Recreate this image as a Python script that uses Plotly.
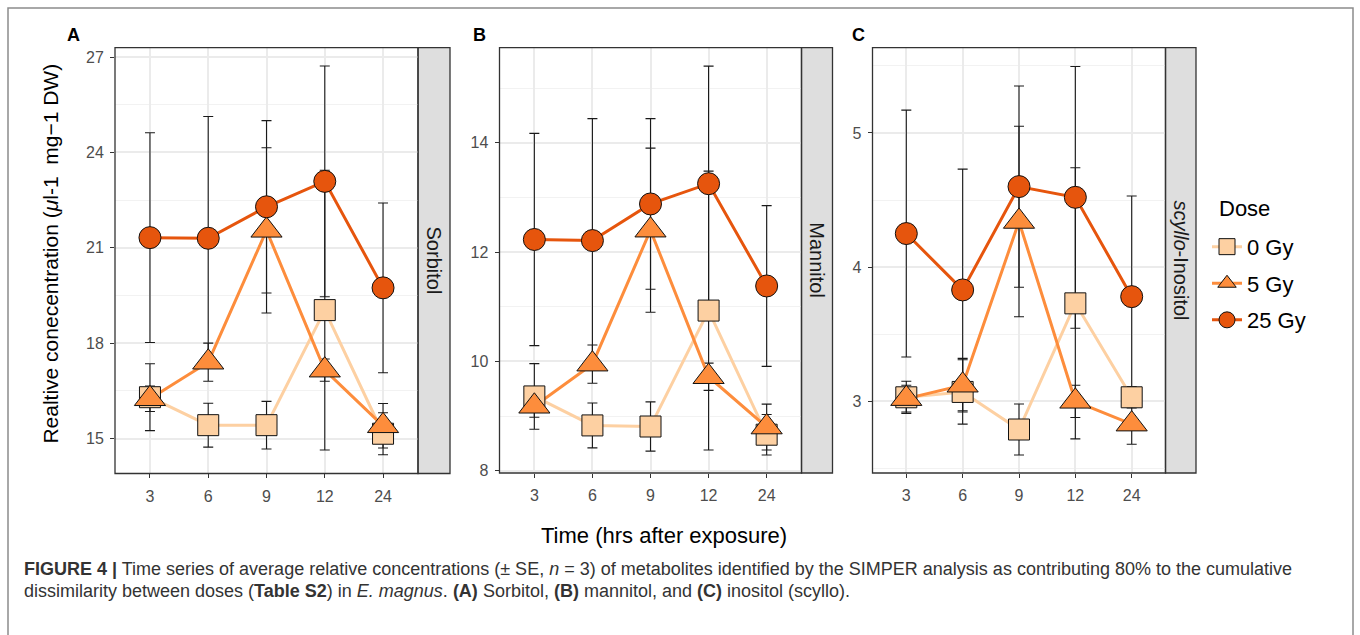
import plotly.graph_objects as go

W, H = 1360, 635

# ---------------- data ----------------
times = ["3", "6", "9", "12", "24"]
doses = ["0 Gy", "5 Gy", "25 Gy"]

sorbitol_0 = [16.30, 15.42, 15.42, 19.04, 15.15]
sorbitol_0_se = [1.05, 0.69, 0.75, 4.40, 0.66]
sorbitol_5 = [16.25, 17.40, 21.55, 17.15, 15.40]
sorbitol_5_se = [0.40, 0.60, 2.60, 0.35, 0.70]
sorbitol_25 = [21.32, 21.30, 22.29, 23.09, 19.74]
sorbitol_25_se = [3.30, 3.83, 2.71, 3.63, 2.67]

mannitol_0 = [9.36, 8.83, 8.81, 10.93, 8.66]
mannitol_0_se = [0.60, 0.41, 0.45, 2.55, 0.37]
mannitol_5 = [9.18, 9.95, 12.40, 9.72, 8.80]
mannitol_5_se = [0.20, 0.35, 1.50, 0.25, 0.42]
mannitol_25 = [12.23, 12.21, 12.88, 13.25, 11.38]
mannitol_25_se = [1.94, 2.23, 1.56, 2.15, 1.47]

inositol_0 = [3.03, 3.07, 2.79, 3.73, 3.03]
inositol_0_se = [0.12, 0.24, 0.19, 1.01, 0.08]
inositol_5 = [3.02, 3.12, 4.34, 3.00, 2.83]
inositol_5_se = [0.10, 0.20, 0.71, 0.12, 0.15]
inositol_25 = [4.25, 3.83, 4.60, 4.52, 3.78]
inositol_25_se = [0.92, 0.90, 0.75, 0.975, 0.75]

sorbitol_ticks = [15, 18, 21, 24, 27]
sorbitol_minor = [13.5, 16.5, 19.5, 22.5, 25.5]
mannitol_ticks = [8, 10, 12, 14]
mannitol_minor = [9, 11, 13, 15]
inositol_ticks = [3, 4, 5]
inositol_minor = [2.5, 3.5, 4.5, 5.5]

panel_titles = ["Sorbitol", "Mannitol", "<i>scyllo</i>-Inositol"]
panel_letters = ["A", "B", "C"]

# ---------------- styles ----------------
colors = ["#FDD0A2", "#FD8D3C", "#E6550D"]
symbols = ["square", "triangle-up", "circle"]
sizes = [21, 27, 22]
FONT = "Liberation Sans, Arial, Helvetica, sans-serif"

panels = [
    dict(data=[(sorbitol_0, sorbitol_0_se), (sorbitol_5, sorbitol_5_se), (sorbitol_25, sorbitol_25_se)],
         ticks=sorbitol_ticks, minor=sorbitol_minor, yr=[13.9, 27.3],
         px=(115, 418), py=(48, 478), strip=(418, 450)),
    dict(data=[(mannitol_0, mannitol_0_se), (mannitol_5, mannitol_5_se), (mannitol_25, mannitol_25_se)],
         ticks=mannitol_ticks, minor=mannitol_minor, yr=[7.96, 15.74],
         px=(499.5, 801.5), py=(48, 477.5), strip=(801.5, 832.5)),
    dict(data=[(inositol_0, inositol_0_se), (inositol_5, inositol_5_se), (inositol_25, inositol_25_se)],
         ticks=inositol_ticks, minor=inositol_minor, yr=[2.466, 5.636],
         px=(872.5, 1165.5), py=(48, 477.5), strip=(1165.5, 1196)),
]

fig = go.Figure()
shapes = []
annotations = []

for i, p in enumerate(panels):
    sfx = "" if i == 0 else str(i + 1)
    xa, ya = "x" + sfx, "y" + sfx
    # error bars
    for k, (vals, se) in enumerate(p["data"]):
        fig.add_trace(go.Scatter(
            x=times, y=vals, mode="markers", xaxis=xa, yaxis=ya,
            marker=dict(size=1, color="rgba(0,0,0,0)"),
            error_y=dict(type="data", array=se, color="#1a1a1a", thickness=1.1, width=5),
            showlegend=False, hoverinfo="skip"))
    # lines
    for k, (vals, se) in enumerate(p["data"]):
        fig.add_trace(go.Scatter(
            x=times, y=vals, mode="lines", xaxis=xa, yaxis=ya,
            line=dict(color=colors[k], width=3),
            showlegend=False, hoverinfo="skip"))
    # markers
    for k, (vals, se) in enumerate(p["data"]):
        fig.add_trace(go.Scatter(
            x=times, y=vals, mode="markers", xaxis=xa, yaxis=ya,
            marker=dict(symbol=symbols[k], size=sizes[k], color=colors[k],
                        line=dict(color="#111111", width=1)),
            showlegend=False, name=doses[k]))

    x0, x1 = p["px"]
    y0, y1 = p["py"]
    fig.update_layout(**{
        "xaxis" + sfx: dict(
            domain=[x0 / W, x1 / W], anchor=ya, type="category",
            categoryorder="array", categoryarray=times, range=[-0.6, 4.6],
            showgrid=True, gridcolor="#EBEBEB", gridwidth=1.6,
            ticks="outside", ticklen=4, tickcolor="#333333", tickwidth=1,
            ticklabelstandoff=4,
            tickfont=dict(family=FONT, size=16, color="#4D4D4D"),
            showline=False, zeroline=False, fixedrange=True),
        "yaxis" + sfx: dict(
            domain=[1 - y1 / H, 1 - y0 / H], anchor=xa, range=p["yr"],
            tickmode="array", tickvals=p["ticks"],
            showgrid=True, gridcolor="#EBEBEB", gridwidth=1.6,
            minor=dict(tickmode="array", tickvals=p["minor"], showgrid=True,
                       gridcolor="#F2F2F2", gridwidth=1, ticks=""),
            ticks="outside", ticklen=4, tickcolor="#333333", tickwidth=1,
            ticklabelstandoff=3,
            tickfont=dict(family=FONT, size=16, color="#4D4D4D"),
            showline=False, zeroline=False, fixedrange=True),
    })
    # panel border
    shapes.append(dict(type="rect", xref="paper", yref="paper",
                       x0=x0 / W, x1=x1 / W, y0=1 - y1 / H, y1=1 - y0 / H,
                       line=dict(color="#333333", width=1.3), fillcolor="rgba(0,0,0,0)"))
    # strip
    s0, s1 = p["strip"]
    shapes.append(dict(type="rect", xref="paper", yref="paper",
                       x0=s0 / W, x1=s1 / W, y0=1 - y1 / H, y1=1 - y0 / H,
                       line=dict(color="#333333", width=1.3), fillcolor="#DEDEDE", layer="below"))
    annotations.append(dict(text=panel_titles[i], x=(s0 + s1) / 2 / W, y=1 - (y0 + y1) / 2 / H,
                            xref="paper", yref="paper", showarrow=False, textangle=90,
                            xanchor="center", yanchor="middle",
                            font=dict(family=FONT, size=20, color="#1A1A1A")))

# panel letters
for letter, lx in zip(panel_letters, [73, 479, 858]):
    annotations.append(dict(text="<b>" + letter + "</b>", x=lx / W, y=1 - 35 / H,
                            xref="paper", yref="paper", showarrow=False,
                            xanchor="center", yanchor="middle",
                            font=dict(family=FONT, size=18, color="#000000")))

# axis titles
annotations.append(dict(text="Realtive conecentration (<i>μ</i>l-1  mg−1 DW)",
                        x=51 / W, y=1 - 256 / H, xref="paper", yref="paper",
                        showarrow=False, textangle=-90, xanchor="center", yanchor="middle",
                        font=dict(family=FONT, size=21, color="#000000")))
annotations.append(dict(text="Time (hrs after exposure)",
                        x=664 / W, y=1 - 541 / H, xref="paper", yref="paper",
                        showarrow=False, xanchor="center", yanchor="middle",
                        font=dict(family=FONT, size=22, color="#000000")))

# legend title
annotations.append(dict(text="Dose", x=1217 / W, y=1 - 210 / H, xref="paper", yref="paper",
                        showarrow=False, xanchor="left", yanchor="middle",
                        font=dict(family=FONT, size=22, color="#000000")))

# caption
cap1 = ("<b>FIGURE 4 |</b> Time series of average relative concentrations (± SE, <i>n</i> = 3) "
        "of metabolites identified by the SIMPER analysis as contributing 80% to the cumulative")
cap2 = ("dissimilarity between doses (<b>Table S2</b>) in <i>E. magnus</i>. <b>(A)</b> Sorbitol, "
        "<b>(B)</b> mannitol, and <b>(C)</b> inositol (scyllo).")
annotations.append(dict(text=cap1, x=22 / W, y=1 - 574 / H, xref="paper", yref="paper",
                        showarrow=False, xanchor="left", yanchor="middle",
                        font=dict(family=FONT, size=18, color="#333333")))
annotations.append(dict(text=cap2, x=22 / W, y=1 - 597 / H, xref="paper", yref="paper",
                        showarrow=False, xanchor="left", yanchor="middle",
                        font=dict(family=FONT, size=18, color="#333333")))

# outer frame
shapes.append(dict(type="rect", xref="paper", yref="paper",
                   x0=8 / W, x1=1353 / W, y0=-0.05, y1=1 - 8 / H,
                   line=dict(color="#8C8C8C", width=1.5), fillcolor="rgba(0,0,0,0)", layer="below"))

# legend entries
for k in range(3):
    fig.add_trace(go.Scatter(
        x=[None], y=[None], mode="lines+markers", xaxis="x3", yaxis="y3",
        name=doses[k], legendgroup=doses[k],
        line=dict(color=colors[k], width=3),
        marker=dict(symbol=symbols[k], size=sizes[k], color=colors[k],
                    line=dict(color="#111111", width=1)),
        showlegend=True))

fig.update_layout(
    width=W, height=H,
    margin=dict(l=0, r=0, t=0, b=0),
    paper_bgcolor="white", plot_bgcolor="white",
    shapes=shapes, annotations=annotations,
    showlegend=True,
    legend=dict(x=1207 / W, y=1 - 228 / H, xanchor="left", yanchor="top",
                font=dict(family=FONT, size=22, color="#000000"),
                tracegroupgap=5, bgcolor="rgba(0,0,0,0)", itemsizing="trace"),
    font=dict(family=FONT),
)

fig.write_html("out.html")
